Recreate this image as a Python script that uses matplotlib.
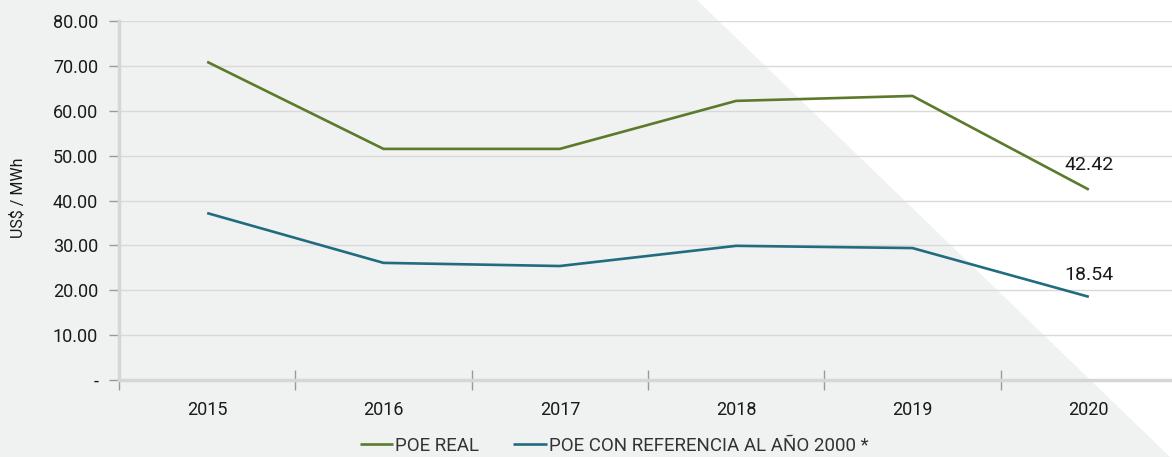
import matplotlib
matplotlib.use("Agg")
import matplotlib.pyplot as plt
from matplotlib.patches import Polygon
import numpy as np

years = ["2015", "2016", "2017", "2018", "2019", "2020"]
poe_real = [70.9, 51.5, 51.5, 62.2, 63.3, 42.42]
poe_ref_2000 = [37.2, 26.1, 25.4, 29.9, 29.4, 18.54]
y_ticks = [0, 10, 20, 30, 40, 50, 60, 70, 80]
y_tick_labels = ["-", "10.00", "20.00", "30.00", "40.00", "50.00", "60.00", "70.00", "80.00"]

green = "#5b7a2b"
blue = "#216c7e"
txt = "#1a1a1a"

plt.rcParams["font.family"] = ["Roboto", "DejaVu Sans"]

fig = plt.figure(figsize=(11.72, 4.57), dpi=100)
fig.patch.set_facecolor("white")

# grey diagonal background shape, kept behind the axes
bg = Polygon([(0, 0), (0, 1), (697 / 1172, 1), (1170 / 1172, 0)], closed=True,
             transform=fig.transFigure, facecolor="#f0f2f1", edgecolor="none", zorder=-10)
fig.patches.append(bg)

ax = fig.add_axes([119 / 1172, 77 / 457, 1058 / 1172, 359 / 457])
ax.set_facecolor("none")

x = np.arange(len(years))
ax.plot(x, poe_real, color=green, lw=1.9, label="POE REAL", solid_capstyle="butt", zorder=3)
ax.plot(x, poe_ref_2000, color=blue, lw=1.9, label="POE CON REFERENCIA AL AÑO 2000 *",
        solid_capstyle="butt", zorder=3)

ax.annotate(f"{poe_real[-1]:.2f}", (x[-1], poe_real[-1]), xytext=(0, 11), textcoords="offset points",
            ha="center", va="bottom", fontsize=14, color=txt)
ax.annotate(f"{poe_ref_2000[-1]:.2f}", (x[-1], poe_ref_2000[-1]), xytext=(0, 9), textcoords="offset points",
            ha="center", va="bottom", fontsize=14, color=txt)

ax.set_xlim(-0.5, len(years) - 0.5)
ax.set_ylim(0, 80)

ax.set_yticks(y_ticks)
ax.set_yticklabels(y_tick_labels, fontsize=13, color=txt)
ax.tick_params(axis="y", length=7, width=1, color="#9a9a9a", pad=8)
ax.grid(axis="y", color="#d9d9d9", lw=1)
ax.set_axisbelow(True)

ax.set_xticks(np.arange(-0.5, len(years), 1.0))
ax.set_xticklabels([])
ax.tick_params(axis="x", which="major", direction="inout", length=14, width=1, color="#9a9a9a")
ax.set_xticks(x, minor=True)
ax.set_xticklabels(years, minor=True, fontsize=13, color=txt)
ax.tick_params(axis="x", which="minor", length=0, pad=15)

for s in ["top", "right"]:
    ax.spines[s].set_visible(False)
ax.spines["left"].set_color("#d6d6d6")
ax.spines["left"].set_linewidth(2.5)
ax.spines["bottom"].set_color("#d6d6d6")
ax.spines["bottom"].set_linewidth(2.5)

fig.text(18 / 1172, 1 - 198 / 457, "US$ / MWh", rotation=90, ha="center", va="center",
         fontsize=11.5, color=txt)

fig.legend(loc="center", bbox_to_anchor=(614 / 1172, 1 - 446 / 457), ncol=2, frameon=False,
           fontsize=13.5, handlelength=1.8, handletextpad=0.1, columnspacing=1.8,
           labelcolor="#333333")

fig.savefig("out.png", dpi=100)
